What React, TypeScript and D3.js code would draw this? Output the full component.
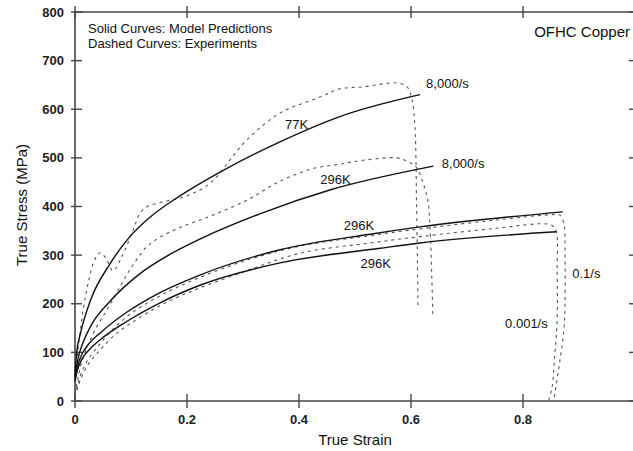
import React from "react";
import * as d3 from "d3";

const W = 633;
const H = 451;

const xTicks = [0, 0.2, 0.4, 0.6, 0.8];
const xTickLabels = ["0", "0.2", "0.4", "0.6", "0.8"];
const yTicks = [0, 100, 200, 300, 400, 500, 600, 700, 800];

// Solid curves: model predictions
const model77K8000: [number, number][] = [
  [0, 55], [0.003, 100], [0.01, 140], [0.027, 205], [0.0625, 282], [0.098, 338],
  [0.134, 378], [0.1875, 422], [0.264, 474], [0.366, 533], [0.473, 585], [0.616, 630],
];
const model296K8000: [number, number][] = [
  [0, 50], [0.005, 85], [0.015, 122], [0.03, 158], [0.0625, 205], [0.116, 262],
  [0.17, 302], [0.223, 333], [0.33, 385], [0.455, 434], [0.64, 483],
];
const model296K01: [number, number][] = [
  [0, 45], [0.004, 70], [0.012, 95], [0.025, 118], [0.045, 140], [0.093, 183],
  [0.152, 223], [0.223, 259], [0.366, 311], [0.527, 343], [0.616, 358], [0.871, 389],
];
const model296K0001: [number, number][] = [
  [0, 40], [0.004, 62], [0.012, 85], [0.025, 105], [0.045, 126], [0.093, 164],
  [0.152, 202], [0.223, 238], [0.366, 284], [0.545, 314], [0.616, 325], [0.86, 348],
];

// Dashed curves: experiments
const exp77K8000: [number, number][] = [
  [0, 20], [0.005, 100], [0.015, 190], [0.025, 250], [0.035, 290], [0.045, 305],
  [0.056, 292], [0.068, 268], [0.085, 300], [0.104, 352], [0.116, 386], [0.128, 399],
  [0.148, 407], [0.17, 413], [0.1875, 417], [0.223, 434], [0.241, 448], [0.256, 465],
  [0.277, 496], [0.307, 537], [0.366, 592], [0.4375, 625], [0.473, 642], [0.514, 646],
  [0.575, 654], [0.593, 646], [0.602, 619], [0.607, 564], [0.61, 400], [0.6125, 191],
];
const exp296K8000: [number, number][] = [
  [0, 15], [0.005, 45], [0.012, 80], [0.025, 120], [0.04, 155], [0.057, 187],
  [0.08, 234], [0.098, 270], [0.116, 300], [0.128, 317], [0.152, 337], [0.1875, 357],
  [0.241, 380], [0.307, 413], [0.366, 452], [0.425, 478], [0.473, 487], [0.514, 495],
  [0.575, 500], [0.593, 493], [0.61, 480], [0.621, 450], [0.63, 413], [0.634, 358],
  [0.637, 260], [0.639, 179],
];
const exp296K01: [number, number][] = [
  [0, 10], [0.005, 35], [0.012, 60], [0.025, 88], [0.045, 118], [0.07, 150],
  [0.1, 180], [0.15, 215], [0.2, 243], [0.3, 287], [0.4, 318], [0.527, 340],
  [0.616, 354], [0.75, 372], [0.848, 383], [0.865, 383], [0.873, 365], [0.875, 303],
  [0.875, 200], [0.873, 146], [0.866, 84], [0.857, 16], [0.855, 2],
];
const exp296K0001: [number, number][] = [
  [0, 8], [0.005, 28], [0.012, 50], [0.025, 78], [0.045, 105], [0.07, 135],
  [0.1, 160], [0.15, 195], [0.2, 222], [0.3, 265], [0.402, 304], [0.527, 325],
  [0.616, 338], [0.75, 355], [0.843, 364], [0.855, 358], [0.86, 346], [0.861, 270],
  [0.861, 167], [0.857, 99], [0.852, 29], [0.846, 2],
];

const modelCurves = [model77K8000, model296K8000, model296K01, model296K0001];
const expCurves = [exp77K8000, exp296K8000, exp296K01, exp296K0001];

// curve labels: [x, y, text]
const curveLabels: [number, number, string][] = [
  [0.375, 560, "77K"],
  [0.438, 447, "296K"],
  [0.48, 352, "296K"],
  [0.51, 274, "296K"],
  [0.627, 644, "8,000/s"],
  [0.655, 480, "8,000/s"],
  [0.888, 253, "0.1/s"],
  [0.768, 150, "0.001/s"],
];

const FONT = "'Liberation Sans', Arial, Helvetica, sans-serif";

export default function App() {
  const x = d3.scaleLinear().domain([0, 1]).range([75, 635]);
  const y = d3.scaleLinear().domain([0, 800]).range([401, 12]);
  const modelLine = d3
    .line<[number, number]>()
    .x((d) => x(d[0]))
    .y((d) => y(d[1]))
    .curve(d3.curveMonotoneX);
  const expLine = d3
    .line<[number, number]>()
    .x((d) => x(d[0]))
    .y((d) => y(d[1]))
    .curve(d3.curveCatmullRom.alpha(0.5));

  const axisColor = "#444";
  return (
    <div style={{ position: "fixed", left: 0, top: 0 }}>
      <svg width={W} height={H} style={{ display: "block", background: "#fff" }} fontFamily={FONT}>
        {/* frame */}
        <line x1={x(0)} x2={x(1)} y1={y(0)} y2={y(0)} stroke={axisColor} strokeWidth={1.6} />
        <line x1={x(0)} x2={x(1)} y1={y(800)} y2={y(800)} stroke={axisColor} strokeWidth={1.6} />
        <line x1={x(0)} x2={x(0)} y1={y(0)} y2={y(800)} stroke={axisColor} strokeWidth={1.6} />
        <line x1={x(1)} x2={x(1)} y1={y(0)} y2={y(800)} stroke={axisColor} strokeWidth={1.6} />
        {/* x ticks */}
        {xTicks.map((t, i) => (
          <g key={"xt" + i}>
            <line x1={x(t)} x2={x(t)} y1={y(0) - 7} y2={y(0) + 7} stroke={axisColor} strokeWidth={1.4} />
            <line x1={x(t)} x2={x(t)} y1={y(800) - 6} y2={y(800) + 6} stroke={axisColor} strokeWidth={1.4} />
            <text x={x(t)} y={424} textAnchor="middle" fontSize={13} fontWeight="bold" fill="#222">
              {xTickLabels[i]}
            </text>
          </g>
        ))}
        {/* y ticks */}
        {yTicks.map((t) => (
          <g key={"yt" + t}>
            <line x1={x(0) - 4} x2={x(0) + 7} y1={y(t)} y2={y(t)} stroke={axisColor} strokeWidth={1.4} />
            <line x1={x(1) - 6} x2={x(1)} y1={y(t)} y2={y(t)} stroke={axisColor} strokeWidth={1.4} />
            <text x={64} y={y(t) + 4.5} textAnchor="end" fontSize={13} fontWeight="bold" fill="#222">
              {t}
            </text>
          </g>
        ))}
        {/* axis titles */}
        <text x={355} y={445} textAnchor="middle" fontSize={15} fill="#111">
          True Strain
        </text>
        <text
          transform={`translate(27,205) rotate(-90)`}
          textAnchor="middle"
          fontSize={15}
          fill="#111"
        >
          True Stress (MPa)
        </text>
        {/* annotations */}
        <text x={88} y={33} fontSize={13} fill="#111">Solid Curves: Model Predictions</text>
        <text x={88} y={48} fontSize={13} fill="#111">Dashed Curves: Experiments</text>
        <text x={630} y={37} textAnchor="end" fontSize={15} fill="#111">OFHC Copper</text>
        {/* experiment curves */}
        {expCurves.map((c, i) => (
          <path
            key={"e" + i}
            d={expLine(c) || ""}
            fill="none"
            stroke="#555"
            strokeWidth={1.1}
            strokeDasharray="3,4"
          />
        ))}
        {/* model curves */}
        {modelCurves.map((c, i) => (
          <path key={"m" + i} d={modelLine(c) || ""} fill="none" stroke="#111" strokeWidth={1.4} />
        ))}
        {/* curve labels */}
        {curveLabels.map((l, i) => (
          <text key={"l" + i} x={x(l[0])} y={y(l[1])} fontSize={13} fill="#111">
            {l[2]}
          </text>
        ))}
      </svg>
    </div>
  );
}
